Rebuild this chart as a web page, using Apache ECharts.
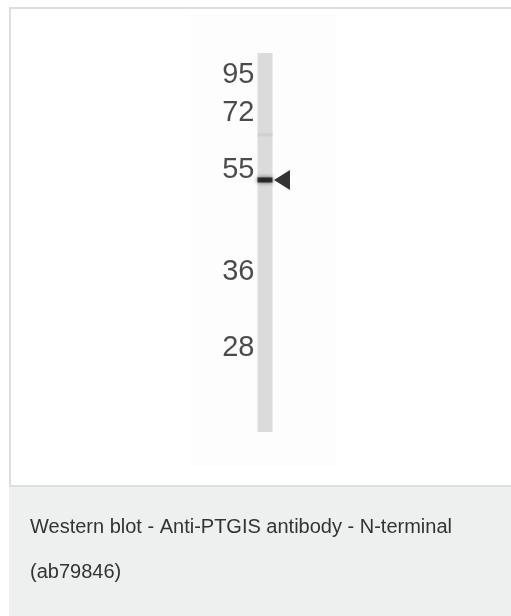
<!DOCTYPE html>
<html>
<head>
<meta charset="utf-8">
<script src="https://cdn.jsdelivr.net/npm/echarts@6/dist/echarts.min.js"></script>
<style>
html,body{margin:0;padding:0;background:#fff;}
#main{width:511px;height:616px;}
</style>
</head>
<body>
<div id="main"></div>
<script>
// Data read from the blot (migration as % of lane length from the top)
const lanes = ['Lane 1'];
const laneLength = [100];
const markerLabels = ['95', '72', '55', '36', '28'];
const markerMigration = [5.8, 15.8, 30.9, 57.8, 77.8];
const bandMigration = [33.5];
const faintBandMigration = [21.6];
const arrowMigration = [33.5];
const captionLines = ['Western blot - Anti-PTGIS antibody - N-terminal', '(ab79846)'];

const chart = echarts.init(document.getElementById('main'));
const font = 'Liberation Sans, Arial, sans-serif';

const option = {
  animation: false,
  backgroundColor: '#ffffff',
  grid: { left: 225, width: 80, top: 53, height: 379 },
  xAxis: { type: 'category', data: lanes, show: false },
  yAxis: { type: 'value', min: 0, max: 100, inverse: true, show: false },
  graphic: [
    { type: 'rect', z: -10, shape: { x: 190, y: 14, width: 146, height: 452 }, style: { fill: '#fdfdfd' } },
    { type: 'rect', z: -5, shape: { x: 10, y: 8, width: 520, height: 478 }, style: { fill: 'none', stroke: '#dedede', lineWidth: 2 } },
    { type: 'rect', z: -4, shape: { x: 9, y: 487, width: 520, height: 140 }, style: { fill: '#eeefef' } },
    { type: 'text', left: 30, top: 517, style: { text: captionLines[0], font: '20px ' + font, fill: '#333333' } },
    { type: 'text', left: 30, top: 562, style: { text: captionLines[1], font: '20px ' + font, fill: '#333333' } }
  ],
  series: [
    {
      type: 'bar',
      data: laneLength,
      barWidth: 15,
      itemStyle: { color: '#dbdbdb' },
      silent: true
    },
    {
      type: 'scatter',
      data: faintBandMigration.map(v => [0, v]),
      symbol: 'rect',
      symbolSize: [15, 3],
      itemStyle: { color: '#cdcdcd' },
      silent: true
    },
    {
      type: 'scatter',
      data: bandMigration.map(v => [0, v]),
      symbol: 'rect',
      symbolSize: [15, 5],
      itemStyle: { color: '#111111', shadowBlur: 4, shadowColor: 'rgba(0,0,0,0.8)' },
      silent: true
    },
    {
      type: 'scatter',
      data: arrowMigration.map(v => [0, v]),
      symbol: 'triangle',
      symbolSize: [20, 16],
      symbolRotate: 90,
      symbolOffset: [17, 0],
      itemStyle: { color: '#000000' },
      silent: true
    },
    {
      type: 'scatter',
      data: markerMigration.map((v, i) => ({ value: [0, v], name: markerLabels[i] })),
      symbolSize: 1,
      itemStyle: { color: 'rgba(0,0,0,0)' },
      label: {
        show: true,
        position: 'left',
        distance: 10,
        formatter: p => p.name,
        fontFamily: font,
        fontSize: 29,
        color: '#1e1e1e'
      },
      silent: true
    }
  ]
};
chart.setOption(option);
</script>
</body>
</html>
